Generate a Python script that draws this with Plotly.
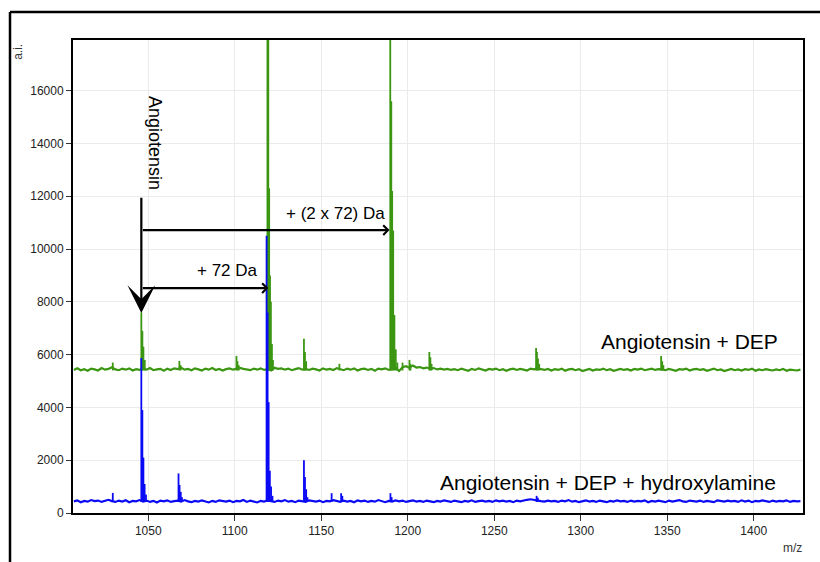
import plotly.graph_objects as go

# ---- spectrum data (m/z vs. intensity, a.i.) ----
BASE_MZ_START = 1007
BASE_MZ_STEP = 2

# Angiotensin + DEP: baseline samples and peak stems
dep_baseline = [
    5420, 5480, 5410, 5450, 5390, 5470, 5440, 5400, 5490, 5430,
    5460, 5520, 5440, 5410, 5470, 5430, 5480, 5400, 5450, 5420,
    5470, 5430, 5490, 5410, 5440, 5460, 5390, 5470, 5420, 5480,
    5450, 5500, 5430, 5460, 5410, 5480, 5440, 5400, 5470, 5430,
    5490, 5420, 5460, 5400, 5450, 5480, 5430, 5470, 5500, 5460,
    5440, 5410, 5470, 5430, 5480, 5420, 5460, 5400, 5500, 5460,
    5480, 5430, 5470, 5410, 5450, 5490, 5430, 5460, 5420, 5470,
    5440, 5400, 5480, 5430, 5460, 5420, 5490, 5440, 5410, 5470,
    5430, 5480, 5400, 5450, 5470, 5420, 5460, 5390, 5470, 5440,
    5480, 5420, 5460, 5500, 5380, 5520, 5560, 5500, 5590, 5510,
    5530, 5480, 5510, 5470, 5490, 5440, 5470, 5430, 5460, 5420,
    5450, 5410, 5470, 5430, 5390, 5460, 5420, 5480, 5440, 5400,
    5460, 5430, 5470, 5410, 5450, 5390, 5440, 5470, 5420, 5460,
    5430, 5400, 5470, 5440, 5480, 5450, 5420, 5460, 5400, 5450,
    5420, 5470, 5390, 5440, 5460, 5410, 5450, 5380, 5430, 5460,
    5400, 5440, 5420, 5470, 5410, 5450, 5390, 5440, 5460, 5420,
    5450, 5400, 5460, 5430, 5470, 5410, 5440, 5470, 5420, 5450,
    5440, 5410, 5460, 5420, 5390, 5450, 5430, 5470, 5400, 5440,
    5460, 5420, 5450, 5390, 5440, 5470, 5410, 5440, 5380, 5430,
    5460, 5410, 5440, 5400, 5450, 5420, 5470, 5390, 5440, 5410,
    5450, 5420, 5400, 5440, 5410, 5460, 5390, 5430, 5420, 5400,
    5430,
]
dep_level = 5430
dep_peak_mz = [1029.5, 1046.0, 1046.6, 1047.2, 1048.0, 1068.0, 1068.7,
               1101.0, 1101.6, 1102.3, 1118.9, 1119.4, 1119.9, 1120.4,
               1120.9, 1121.5, 1122.1, 1140.0, 1140.6, 1141.3, 1160.5,
               1189.9, 1190.5, 1191.0, 1191.6, 1192.3, 1193.1, 1194.0,
               1197.0, 1201.0, 1201.6, 1212.5, 1213.1, 1213.8,
               1274.2, 1274.7, 1275.3, 1276.0, 1346.5, 1347.1, 1347.8]
dep_peak_int = [5700, 7600, 6900, 6300, 5800, 5760, 5600,
                5950, 5750, 5600, 19000, 19000, 12300, 9000,
                8000, 6400, 5800, 6600, 6100, 5750, 5650,
                19000, 15600, 12200, 10700, 7500, 6200, 5700,
                5700, 5800, 5650, 6100, 5900, 5650,
                6250, 6100, 5850, 5650, 5950, 5750, 5600]

# Angiotensin + DEP + hydroxylamine: baseline samples and peak stems
hyd_baseline = [
    440, 480, 410, 460, 430, 490, 450, 470, 420, 460,
    500, 450, 420, 470, 430, 480, 410, 460, 440, 490,
    430, 470, 420, 460, 400, 470, 440, 480, 420, 450,
    470, 430, 490, 440, 410, 460, 430, 480, 440, 400,
    460, 420, 480, 450, 430, 470, 410, 460, 440, 490,
    420, 470, 440, 400, 460, 430, 480, 450, 420, 470,
    440, 490, 430, 460, 410, 470, 440, 420, 480, 450,
    430, 470, 410, 460, 440, 490, 450, 420, 470, 430,
    460, 410, 480, 440, 470, 420, 460, 430, 490, 440,
    410, 460, 430, 480, 440, 470, 420, 450, 480, 430,
    460, 420, 470, 440, 410, 460, 430, 480, 450, 420,
    470, 440, 410, 460, 430, 480, 420, 450, 470, 430,
    460, 420, 480, 440, 470, 430, 460, 410, 470, 440,
    480, 500, 520, 490, 470, 450, 430, 470, 440, 460,
    420, 470, 440, 490, 430, 460, 410, 450, 480, 430,
    460, 420, 470, 440, 410, 460, 430, 480, 440, 460,
    420, 470, 430, 460, 440, 480, 410, 460, 430, 470,
    440, 410, 470, 430, 460, 490, 440, 420, 470, 450,
    430, 470, 420, 460, 440, 410, 480, 450, 430, 470,
    440, 460, 420, 480, 430, 470, 410, 460, 440, 480,
    450, 420, 470, 430, 460, 440, 480, 420, 460, 440,
    450,
]
hyd_level = 450
hyd_peak_mz = [1029.5, 1046.0, 1046.6, 1047.2, 1047.9, 1048.7,
               1067.5, 1068.1, 1068.8, 1069.5,
               1118.4, 1119.0, 1119.6, 1120.3, 1121.0, 1121.8,
               1140.0, 1140.6, 1141.3, 1142.0, 1156.0, 1161.5, 1162.2,
               1190.0, 1190.7, 1274.5, 1275.2]
hyd_peak_int = [760, 5870, 3900, 2100, 1100, 700,
                1500, 1060, 800, 600,
                10500, 7600, 4200, 1600, 1000, 650,
                2000, 1360, 900, 600, 750, 750, 650,
                750, 600, 650, 580]

# ---- annotation anchors (data units) ----
ANGIOTENSIN_MZ = 1046.0
ARROW_TOP = 12000
ARROW_TIP = 7580
SHIFT_1_MZ = 1119.5   # + 72 Da
SHIFT_2_MZ = 1189.5   # + 2 x 72 Da
SHIFT_1_Y = 8520
SHIFT_2_Y = 10720

X_RANGE = [1006.5, 1428.5]
Y_RANGE = [0, 17920]
x_ticks = [1050, 1100, 1150, 1200, 1250, 1300, 1350, 1400]
y_ticks = [0, 2000, 4000, 6000, 8000, 10000, 12000, 14000, 16000]

GREEN = "#3b9612"
BLUE = "#0a0af5"
FONT = "Liberation Sans, Arial, Helvetica, sans-serif"


def baseline_xy(values):
    xs = [BASE_MZ_START + i * BASE_MZ_STEP for i in range(len(values))]
    return xs, values


def stems_xy(mz, inten, level):
    xs, ys = [], []
    for m, h in zip(mz, inten):
        xs += [m, m, None]
        ys += [level - 30, h, None]
    return xs, ys


fig = go.Figure()

for base, level, pmz, pint, color in [
    (dep_baseline, dep_level, dep_peak_mz, dep_peak_int, GREEN),
    (hyd_baseline, hyd_level, hyd_peak_mz, hyd_peak_int, BLUE),
]:
    bx, by = baseline_xy(base)
    fig.add_trace(go.Scatter(x=bx, y=by, mode="lines",
                             line=dict(color=color, width=2.2),
                             hoverinfo="skip", showlegend=False))
    sx, sy = stems_xy(pmz, pint, level)
    fig.add_trace(go.Scatter(x=sx, y=sy, mode="lines",
                             line=dict(color=color, width=1.8),
                             hoverinfo="skip", showlegend=False))

# arrows
fig.add_annotation(x=ANGIOTENSIN_MZ, y=ARROW_TIP, ax=ANGIOTENSIN_MZ, ay=ARROW_TOP,
                   xref="x", yref="y", axref="x", ayref="y", text="",
                   showarrow=True, arrowhead=3, arrowsize=2.1, arrowwidth=2.2,
                   arrowcolor="black", standoff=0)
for tip_mz, yv in [(SHIFT_1_MZ, SHIFT_1_Y), (SHIFT_2_MZ, SHIFT_2_Y)]:
    fig.add_annotation(x=tip_mz, y=yv, ax=ANGIOTENSIN_MZ, ay=yv,
                       xref="x", yref="y", axref="x", ayref="y", text="",
                       showarrow=True, arrowhead=4, arrowsize=0.85, arrowwidth=2.2,
                       arrowcolor="black", standoff=0)

# labels
fig.add_annotation(x=1054, y=14015, text="Angiotensin", textangle=90,
                   showarrow=False, font=dict(family=FONT, size=18, color="black"))
fig.add_annotation(x=1188, y=11360, text="+ (2 x 72) Da", xanchor="right",
                   showarrow=False, font=dict(family=FONT, size=17, color="black"))
fig.add_annotation(x=1114.7, y=9170, text="+ 72 Da", xanchor="right",
                   showarrow=False, font=dict(family=FONT, size=17, color="black"))
fig.add_annotation(x=1415, y=6490, text="Angiotensin + DEP", xanchor="right",
                   showarrow=False, font=dict(family=FONT, size=21, color="black"))
fig.add_annotation(x=1414, y=1150, text="Angiotensin + DEP + hydroxylamine",
                   xanchor="right", showarrow=False,
                   font=dict(family=FONT, size=21, color="black"))

# axis captions
fig.add_annotation(x=-0.0753, y=0.975, xref="paper", yref="paper", text="a.i.",
                   textangle=-90, showarrow=False, xanchor="center", yanchor="middle",
                   font=dict(family=FONT, size=12, color="#333"))
fig.add_annotation(x=0.985, y=-0.074, xref="paper", yref="paper", text="m/z",
                   showarrow=False, xanchor="center", yanchor="middle",
                   font=dict(family=FONT, size=12, color="#333"))

# outer frame (top and left edges)
fig.add_shape(type="line", xref="paper", yref="paper", x0=-0.0863, x1=1.1,
              y0=1.0592, y1=1.0592, line=dict(color="black", width=2.5))
fig.add_shape(type="line", xref="paper", yref="paper", x0=-0.0863, x1=-0.0863,
              y0=1.0592, y1=-0.2, line=dict(color="black", width=2.5))

fig.update_xaxes(range=X_RANGE, tickvals=x_ticks, tickformat="d", showgrid=True,
                 gridcolor="#ebebeb", gridwidth=1, zeroline=False,
                 showline=True, linecolor="black", linewidth=2, mirror=True,
                 ticks="outside", ticklen=6, tickcolor="#333", tickwidth=1,
                 tickfont=dict(family=FONT, size=12, color="#222"))
fig.update_yaxes(range=Y_RANGE, tickvals=y_ticks, tickformat="d", showgrid=True,
                 gridcolor="#ebebeb", gridwidth=1, zeroline=False,
                 showline=True, linecolor="black", linewidth=2, mirror=True,
                 ticks="outside", ticklen=5, tickcolor="#333", tickwidth=1,
                 tickfont=dict(family=FONT, size=12, color="#222"))

fig.update_layout(width=820, height=562,
                  margin=dict(l=73, r=17, t=40, b=49),
                  paper_bgcolor="white", plot_bgcolor="white",
                  showlegend=False)

fig.write_html("out.html")
